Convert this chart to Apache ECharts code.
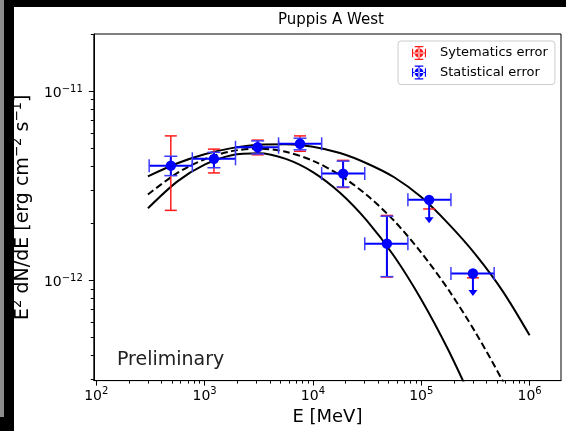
<!DOCTYPE html>
<html>
<head>
<meta charset="utf-8">
<script src="https://cdn.jsdelivr.net/npm/echarts@6/dist/echarts.min.js"></script>
<style>
  html, body { margin: 0; padding: 0; background: #fff; }
  #chart { width: 566px; height: 431px; }
</style>
</head>
<body>
<div id="chart"></div>
<script>
// energy bins [MeV]
const energy = [488, 1220, 3090, 7600, 19000, 48200, 118300, 300000];
const eLow = [308, 771, 1930, 4820, 12050, 30100, 75300, 188000];
const eHigh = [771, 1930, 4820, 12050, 30100, 75300, 188000, 471000];
// E^2 dN/dE [erg cm-2 s-1]
const flux = [4.03e-12, 4.38e-12, 5.04e-12, 5.26e-12, 3.66e-12, 1.56e-12, 2.66e-12, 1.086e-12];
const statLow = [3.57e-12, 3.93e-12, 4.65e-12, 4.89e-12, 3.11e-12, 1.045e-12, 0, 0];
const statHigh = [4.52e-12, 4.74e-12, 5.45e-12, 5.63e-12, 4.26e-12, 2.18e-12, 0, 0];
const sysLow = [2.34e-12, 3.69e-12, 4.6e-12, 4.8e-12, 3.09e-12, 1.04e-12, 2.38e-12, 1.03e-12];
const sysHigh = [5.79e-12, 4.93e-12, 5.5e-12, 5.79e-12, 4.3e-12, 2.2e-12, 0, 0];
// upper limits (arrow tip), 0 = normal point
const ulTip = [0, 0, 0, 0, 0, 0, 2.0e-12, 8.26e-13];

// model curves
const curveE = [300, 562, 1000, 1778, 3162, 5623, 10000, 17783, 31623, 56234, 100000, 177828, 316228, 562341, 1000000];
const curveUpper = [3.54e-12, 4.15e-12, 4.63e-12, 4.99e-12, 5.2e-12, 5.23e-12, 5.08e-12, 4.7e-12, 4.14e-12, 3.5e-12, 2.75e-12, 1.99e-12, 1.37e-12, 8.79e-13, 5.12e-13];
const curveBest = [2.84e-12, 3.69e-12, 4.36e-12, 4.81e-12, 4.96e-12, 4.77e-12, 4.28e-12, 3.59e-12, 2.81e-12, 2.06e-12, 1.4e-12, 8.93e-13, 5.31e-13, 2.95e-13, 1.53e-13];
const curveLower = [2.4e-12, 3.33e-12, 4.08e-12, 4.58e-12, 4.69e-12, 4.38e-12, 3.73e-12, 2.9e-12, 2.06e-12, 1.34e-12, 7.92e-13, 4.28e-13, 2.12e-13, null, null];

// tick labels (base, exponent)
const xTickValues = [1e2, 1e3, 1e4, 1e5, 1e6];
const xTickExp = ['2', '3', '4', '5', '6'];
const yTickValues = [1e-12, 1e-11];
const yTickExp = ['−12', '−11'];

function minorTicks(fromExp, toExp, lo, hi) {
  const out = [];
  for (let e = fromExp; e <= toExp; e++) {
    for (let m = 2; m <= 9; m++) {
      const v = m * Math.pow(10, e);
      if (v >= lo && v <= hi) out.push(v);
    }
  }
  return out;
}

function tickIndex(values, v) {
  return values.findIndex((t) => Math.abs(Math.log10(t) - Math.log10(v)) < 1e-6);
}

const xMin = 95, xMax = 1.95e6;
const yMin = 2.95e-13, yMax = 2.0e-11;
const font = 'DejaVu Sans';
const BLUE = '#0000ff';
const CAPBLUE = '#3c3cff';
const RED = '#ff1a1a';

const tickRich = {
  b: { fontFamily: font, fontSize: 14, lineHeight: 14, padding: [5, 0, 0, 0], color: '#000' },
  s: { fontFamily: font, fontSize: 10, lineHeight: 12, verticalAlign: 'top', color: '#000' }
};

const pointRows = energy.map((e, i) => [e, flux[i], eLow[i], eHigh[i], statLow[i], statHigh[i], sysLow[i], sysHigh[i], ulTip[i]]);

function line(x1, y1, x2, y2, color, w) {
  return { type: 'line', shape: { x1, y1, x2, y2 }, style: { stroke: color, lineWidth: w } };
}

function renderSys(params, api) {
  const x = api.value(0);
  const lo = api.value(6), hi = api.value(7);
  const cap = 6;
  const children = [];
  const pLo = api.coord([x, lo]);
  if (hi > 0) {
    const pHi = api.coord([x, hi]);
    children.push(line(pLo[0], pLo[1], pHi[0], pHi[1], RED, 1.5));
    children.push(line(pHi[0] - cap, pHi[1], pHi[0] + cap, pHi[1], RED, 1.5));
  }
  children.push(line(pLo[0] - cap, pLo[1], pLo[0] + cap, pLo[1], RED, 1.5));
  return { type: 'group', children };
}

function renderStat(params, api) {
  const x = api.value(0), y = api.value(1);
  const c = api.coord([x, y]);
  const xl = api.coord([api.value(2), y]);
  const xh = api.coord([api.value(3), y]);
  const cap = 6.5;
  const children = [];
  children.push(line(xl[0], c[1], xh[0], c[1], BLUE, 2));
  children.push(line(xl[0], c[1] - cap, xl[0], c[1] + cap, CAPBLUE, 1.5));
  children.push(line(xh[0], c[1] - cap, xh[0], c[1] + cap, CAPBLUE, 1.5));
  const lo = api.value(4), hi = api.value(5), tip = api.value(8);
  if (hi > 0) {
    const pl = api.coord([x, lo]);
    const ph = api.coord([x, hi]);
    children.push(line(c[0], pl[1], c[0], ph[1], BLUE, 2));
    children.push(line(c[0] - cap, pl[1], c[0] + cap, pl[1], CAPBLUE, 1.5));
    children.push(line(c[0] - cap, ph[1], c[0] + cap, ph[1], CAPBLUE, 1.5));
  }
  if (tip > 0) {
    const pt = api.coord([x, tip]);
    children.push(line(c[0], c[1], c[0], pt[1] - 5, BLUE, 2));
    children.push({
      type: 'polygon',
      shape: { points: [[c[0] - 4.5, pt[1] - 6], [c[0] + 4.5, pt[1] - 6], [c[0], pt[1]]] },
      style: { fill: BLUE }
    });
  }
  children.push({ type: 'circle', shape: { cx: c[0], cy: c[1], r: 5.2 }, style: { fill: BLUE } });
  return { type: 'group', children };
}

// legend icon: marker with error bars and caps
const errIcon = 'path://M9.2,1h1.6v18h-1.6z M1,9.2h18v1.6h-18z M4,0.2h12v1.6h-12z M4,18.2h12v1.6h-12z M0.2,4h1.6v12h-1.6z M18.2,4h1.6v12h-1.6z M10,3.8a6.2,6.2 0 1,0 0.01,0z';

const chart = echarts.init(document.getElementById('chart'));

const option = {
  backgroundColor: '#fff',
  animation: false,
  textStyle: { fontFamily: font },
  title: [
    {
      text: 'Puppis A West',
      left: 326, top: 8, textAlign: 'center',
      textStyle: { fontFamily: font, fontSize: 15, fontWeight: 'normal', color: '#000' }
    },
    {
      text: 'Preliminary',
      left: 112, top: 346,
      textStyle: { fontFamily: font, fontSize: 19, fontWeight: 'normal', color: '#222' }
    }
  ],
  legend: {
    orient: 'vertical',
    left: 398, top: 41,
    padding: [5, 7, 5, 14],
    itemWidth: 14, itemHeight: 14, itemGap: 5.5,
    backgroundColor: 'rgba(255,255,255,0.8)',
    borderColor: '#cccccc', borderWidth: 1, borderRadius: 3,
    textStyle: { fontFamily: font, fontSize: 13, color: '#000', padding: [0, 0, 0, 9] },
    data: [
      { name: 'Sytematics error', icon: errIcon, itemStyle: { color: RED, borderWidth: 0 } },
      { name: 'Statistical error', icon: errIcon, itemStyle: { color: BLUE, borderWidth: 0 } }
    ]
  },
  grid: {
    left: 91, top: 34, width: 470, height: 351,
    show: true, borderColor: '#000', borderWidth: 1
  },
  xAxis: [
    {
      type: 'log', logBase: 10, min: xMin, max: xMax,
      name: 'E [MeV]', nameLocation: 'middle', nameGap: 25,
      nameTextStyle: { fontFamily: font, fontSize: 18, color: '#000' },
      axisLine: { show: true, lineStyle: { color: '#000', width: 1 } },
      axisTick: { show: true, customValues: xTickValues, length: 5, lineStyle: { color: '#000', width: 1 } },
      axisLabel: {
        customValues: xTickValues, margin: 6,
        formatter: (v) => '{b|10}{s|' + xTickExp[tickIndex(xTickValues, v)] + '}',
        rich: tickRich
      },
      splitLine: { show: false }
    },
    {
      type: 'log', logBase: 10, min: xMin, max: xMax, position: 'bottom', gridIndex: 0,
      axisLine: { show: false },
      axisTick: { show: true, customValues: minorTicks(1, 6, xMin, xMax), length: 3, lineStyle: { color: '#000', width: 1 } },
      axisLabel: { show: false },
      splitLine: { show: false }
    }
  ],
  yAxis: [
    {
      type: 'log', logBase: 10, min: yMin, max: yMax,
      name: '{n|E}{s|2}{n| dN/dE [erg cm}{s|−2}{n| s}{s|−1}{n|]}',
      nameLocation: 'middle', nameGap: 51,
      nameTextStyle: {
        fontFamily: font, fontSize: 19, color: '#000',
        rich: {
          n: { fontFamily: font, fontSize: 19, lineHeight: 19, padding: [6, 0, 0, 0], color: '#000' },
          s: { fontFamily: font, fontSize: 13.3, lineHeight: 15, verticalAlign: 'top', color: '#000' }
        }
      },
      axisLine: { show: true, lineStyle: { color: '#000', width: 1 } },
      axisTick: { show: true, customValues: yTickValues, length: 5, lineStyle: { color: '#000', width: 1 } },
      axisLabel: {
        customValues: yTickValues, margin: 11,
        formatter: (v) => '{b|10}{s|' + yTickExp[tickIndex(yTickValues, v)] + '}',
        rich: tickRich
      },
      splitLine: { show: false }
    },
    {
      type: 'log', logBase: 10, min: yMin, max: yMax, position: 'left', gridIndex: 0,
      axisLine: { show: false },
      axisTick: { show: true, customValues: minorTicks(-14, -11, yMin, yMax), length: 3, lineStyle: { color: '#000', width: 1 } },
      axisLabel: { show: false },
      splitLine: { show: false }
    }
  ],
  series: [
    {
      type: 'line', name: 'upper', data: curveE.map((e, i) => [e, curveUpper[i]]),
      showSymbol: false, smooth: 0.3, clip: true, z: 2,
      lineStyle: { color: '#000', width: 2 }
    },
    {
      type: 'line', name: 'best', data: curveE.map((e, i) => [e, curveBest[i]]),
      showSymbol: false, smooth: 0.3, clip: true, z: 2,
      lineStyle: { color: '#000', width: 2, type: [7, 3.5] }
    },
    {
      type: 'line', name: 'lower', data: curveE.map((e, i) => [e, curveLower[i]]),
      showSymbol: false, smooth: 0.3, clip: true, z: 2, connectNulls: false,
      lineStyle: { color: '#000', width: 2 }
    },
    {
      type: 'custom', name: 'Sytematics error', data: pointRows, z: 3,
      itemStyle: { color: RED },
      renderItem: renderSys
    },
    {
      type: 'custom', name: 'Statistical error', data: pointRows, z: 4,
      itemStyle: { color: BLUE },
      renderItem: renderStat
    }
  ],
  graphic: [
    { type: 'rect', left: 0, top: 0, shape: { width: 566, height: 7 }, style: { fill: '#000' }, z: 100 },
    { type: 'rect', left: 0, top: 0, shape: { width: 14, height: 431 }, style: { fill: '#000' }, z: 100 },
    { type: 'rect', left: 0, top: 0, shape: { width: 4, height: 417 }, style: { fill: '#8c8c8c' }, z: 101 }
  ]
};

chart.setOption(option);
</script>
</body>
</html>
